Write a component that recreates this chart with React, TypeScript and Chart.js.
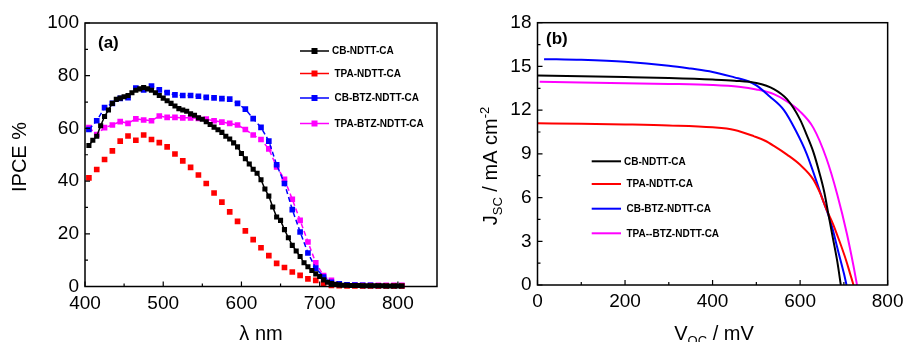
import React, { useEffect, useRef } from "react";
import { Chart, registerables } from "chart.js";

Chart.register(...registerables);

const FONT = '"Liberation Sans", Arial, Helvetica, sans-serif';

// ---------- Panel (a): IPCE spectra ----------
const seriesNames = ["CB-NDTT-CA", "TPA-NDTT-CA", "CB-BTZ-NDTT-CA", "TPA-BTZ-NDTT-CA"];
const jvSeriesNames = ["CB-NDTT-CA", "TPA-NDTT-CA", "CB-BTZ-NDTT-CA", "TPA--BTZ-NDTT-CA"];
const seriesColors = ["#000000", "#ff0000", "#0000ff", "#ff00ff"];

// CB-NDTT-CA is sampled every 5 nm
const cbNdttWavelength = [
  405, 410, 415, 420, 425, 430, 435, 440, 445, 450, 455, 460, 465, 470, 475, 480, 485, 490, 495, 500,
  505, 510, 515, 520, 525, 530, 535, 540, 545, 550, 555, 560, 565, 570, 575, 580, 585, 590, 595, 600,
  605, 610, 615, 620, 625, 630, 635, 640, 645, 650, 655, 660, 665, 670, 675, 680, 685, 690, 695, 700,
  705, 710, 715, 720, 725, 730, 735, 740, 745, 750, 755, 760, 765, 770, 775, 780, 785, 790, 795, 800,
  805,
];
const cbNdttIpce = [
  53.5, 55.5, 57, 61, 64.5, 67, 69.5, 71, 71.5, 72, 72.5, 73.5, 74.5, 75, 75.5, 75, 74.5, 73.5, 72.5, 71.5,
  70.5, 69.5, 68.5, 67.5, 67, 66.5, 65.5, 65, 64, 63.5, 62.5, 61.5, 60.5, 59.5, 58.5, 57, 56, 54.5, 53, 50.5,
  48.5, 46.5, 44.5, 43, 40.5, 37, 34.3, 30.2, 26.4, 25.1, 21.6, 18.5, 15.6, 13.5, 11.4, 9, 7.5, 6.1, 4.8, 3.8,
  2.5, 1.6, 1.1, 0.8, 0.6, 0.5, 0.5, 0.4, 0.4, 0.4, 0.3, 0.3, 0.3, 0.3, 0.3, 0.3, 0.2, 0.2, 0.2, 0.2,
  0.2,
];

// the other three dyes are sampled every 10 nm
const ipceWavelength = [
  405, 415, 425, 435, 445, 455, 465, 475, 485, 495,
  505, 515, 525, 535, 545, 555, 565, 575, 585, 595,
  605, 615, 625, 635, 645, 655, 665, 675, 685, 695,
  705, 715, 725, 735, 745, 755, 765, 775, 785, 795,
  805,
];
const tpaNdttIpce = [
  41.2, 44.4, 48.2, 51.5, 55.2, 57.1, 55.5, 57.5, 55.8, 54.6,
  53.0, 50.3, 47.7, 45.2, 42.3, 39.1, 35.5, 32.0, 28.3, 24.7,
  21.1, 17.8, 14.7, 11.7, 8.8, 7.2, 5.5, 4.2, 2.9, 2.3,
  1.3, 0.4, 0.3, 0.2, 0.2, 0.2, 0.2, 0.2, 0.2, 0.2,
  0.2,
];
const cbBtzNdttIpce = [
  59.6, 62.9, 67.9, 69.5, 71.4, 71.7, 75.3, 74.6, 76.1, 74.6,
  73.6, 72.7, 72.5, 72.5, 72.2, 71.8, 71.6, 71.3, 71.1, 69.5,
  67.3, 63.7, 60.4, 55.2, 46.2, 39.1, 29.2, 20.7, 12.7, 7.0,
  3.6, 1.6, 1.0, 0.6, 0.5, 0.4, 0.4, 0.3, 0.3, 0.3,
  0.3,
];
const tpaBtzNdttIpce = [
  60.3, 57.7, 60.3, 61.3, 62.6, 61.9, 63.6, 63.2, 62.9, 64.7,
  64.2, 64.2, 64.0, 64.0, 63.8, 63.5, 62.9, 62.4, 61.9, 61.3,
  59.6, 57.5, 55.8, 52.2, 45.4, 40.7, 33.1, 25.1, 16.9, 9.0,
  4.1, 2.3, 1.0, 0.5, 0.5, 0.4, 0.4, 0.4, 0.4, 0.4,
  0.4,
];

const ipceXTicks = [400, 500, 600, 700, 800];
const ipceXMinor = [450, 550, 650, 750];
const ipceYTicks = [0, 20, 40, 60, 80, 100];
const ipceYMinor = [10, 30, 50, 70, 90];

// ---------- Panel (b): J-V curves ----------
const cbNdttV = [0, 100, 200, 300, 400, 450, 500, 540, 570, 600, 615, 630, 645, 655, 665, 675, 685, 693];
const cbNdttJ = [14.38, 14.33, 14.27, 14.2, 14.1, 14.02, 13.86, 13.45, 12.75, 11.35, 10.3, 9.15, 7.6, 6.4, 4.8, 3.2, 1.6, 0];

const tpaNdttV = [0, 100, 200, 300, 400, 450, 495, 520, 540, 570, 600, 630, 645, 660, 675, 690, 705, 714, 722];
const tpaNdttJ = [11.1, 11.07, 11.02, 10.95, 10.82, 10.64, 10.2, 9.9, 9.55, 8.95, 8.25, 7.25, 6.35, 5.2, 4.2, 3.0, 1.7, 0.8, 0];

const cbBtzNdttV = [15, 100, 200, 300, 350, 400, 450, 480, 500, 530, 563, 590, 615, 650, 670, 688, 700, 706];
const cbBtzNdttJ = [15.5, 15.45, 15.32, 15.05, 14.85, 14.62, 14.25, 14.0, 13.7, 12.95, 12.0, 10.6, 9.0, 6.0, 4.3, 2.2, 0.8, 0];

const tpaBtzNdttV = [5, 100, 200, 300, 400, 460, 500, 540, 570, 600, 630, 660, 685, 707, 722, 730];
const tpaBtzNdttJ = [13.95, 13.9, 13.85, 13.8, 13.72, 13.6, 13.42, 13.1, 12.6, 11.9, 10.8, 8.7, 6.2, 3.5, 1.3, 0];

const jvXTicks = [0, 200, 400, 600, 800];
const jvXMinor = [100, 300, 500, 700];
const jvYTicks = [0, 3, 6, 9, 12, 15, 18];
const jvYMinor = [1.5, 4.5, 7.5, 10.5, 13.5, 16.5];

const toPoints = (xs: number[], ys: number[]) => xs.map((x, i) => ({ x, y: ys[i] }));

type TextPart = { text: string; size: number; dy: number; bold?: boolean };

function drawParts(ctx: CanvasRenderingContext2D, parts: TextPart[], cx: number, cy: number, rotate: boolean) {
  ctx.save();
  ctx.translate(cx, cy);
  if (rotate) ctx.rotate(-Math.PI / 2);
  ctx.fillStyle = "#000";
  ctx.textBaseline = "alphabetic";
  ctx.textAlign = "left";
  let total = 0;
  const widths = parts.map((p) => {
    ctx.font = `${p.bold ? "bold " : ""}${p.size}px ${FONT}`;
    const w = ctx.measureText(p.text).width;
    total += w;
    return w;
  });
  let x = -total / 2;
  parts.forEach((p, i) => {
    ctx.font = `${p.bold ? "bold " : ""}${p.size}px ${FONT}`;
    ctx.fillText(p.text, x, p.dy);
    x += widths[i];
  });
  ctx.restore();
}

type Decor = {
  xMajor: number[];
  xMinor: number[];
  yMajor: number[];
  yMinor: number[];
  xTitle: { parts: TextPart[]; x: number; y: number };
  yTitle: { parts: TextPart[]; x: number; y: number };
  panel: { text: string; x: number; y: number };
  legend: { rows: number[]; lineX0: number; lineX1: number; textX: number[]; markers: boolean; lineWidth: number };
};

function makeDecorPlugin(decor: Decor) {
  return {
    id: "panelDecor",
    afterDraw(chart: any) {
      const ctx: CanvasRenderingContext2D = chart.ctx;
      const { left, right, top, bottom } = chart.chartArea;
      const xs = chart.scales.x;
      const ys = chart.scales.y;
      ctx.save();
      ctx.strokeStyle = "#000";
      ctx.lineWidth = 1.5;
      ctx.strokeRect(left, top, right - left, bottom - top);

      // inward ticks
      ctx.lineWidth = 1.2;
      ctx.beginPath();
      const xt = (v: number, len: number) => {
        const p = xs.getPixelForValue(v);
        ctx.moveTo(p, bottom);
        ctx.lineTo(p, bottom - len);
      };
      const yt = (v: number, len: number) => {
        const p = ys.getPixelForValue(v);
        ctx.moveTo(left, p);
        ctx.lineTo(left + len, p);
      };
      decor.xMajor.forEach((v) => xt(v, 5));
      decor.xMinor.forEach((v) => xt(v, 3));
      decor.yMajor.forEach((v) => yt(v, 5));
      decor.yMinor.forEach((v) => yt(v, 3));
      ctx.stroke();

      // axis titles
      drawParts(ctx, decor.xTitle.parts, decor.xTitle.x, decor.xTitle.y, false);
      drawParts(ctx, decor.yTitle.parts, decor.yTitle.x, decor.yTitle.y, true);

      // panel label
      ctx.fillStyle = "#000";
      ctx.font = `bold 17px ${FONT}`;
      ctx.textAlign = "left";
      ctx.textBaseline = "middle";
      ctx.fillText(decor.panel.text, decor.panel.x, decor.panel.y);

      // legend
      const lg = decor.legend;
      chart.data.datasets.forEach((ds: any, i: number) => {
        const y = lg.rows[i];
        const color = ds.borderColor;
        ctx.strokeStyle = color;
        ctx.lineWidth = lg.lineWidth;
        ctx.setLineDash([]);
        ctx.beginPath();
        ctx.moveTo(lg.lineX0, y);
        ctx.lineTo(lg.lineX1, y);
        ctx.stroke();
        if (lg.markers) {
          const mx = (lg.lineX0 + lg.lineX1) / 2;
          ctx.fillStyle = color;
          ctx.fillRect(mx - 3, y - 3, 6, 6);
        }
        ctx.fillStyle = "#000";
        ctx.font = `bold 10px ${FONT}`;
        ctx.textAlign = "left";
        ctx.textBaseline = "middle";
        ctx.fillText(ds.label, lg.textX[i], y + 0.5);
      });
      ctx.restore();
    },
  };
}

function baseScales(
  xMin: number, xMax: number, xStep: number,
  yMin: number, yMax: number, yStep: number,
  yWidth: number, xHeight: number
) {
  const tickFont = { family: FONT, size: 19 };
  return {
    x: {
      type: "linear",
      min: xMin,
      max: xMax,
      grid: { display: false, drawTicks: false },
      border: { display: false },
      ticks: { stepSize: xStep, includeBounds: false, color: "#000", font: tickFont, padding: 5.5, maxRotation: 0 },
      afterFit: (s: any) => { s.height = xHeight; },
    },
    y: {
      type: "linear",
      min: yMin,
      max: yMax,
      grid: { display: false, drawTicks: false },
      border: { display: false },
      ticks: { stepSize: yStep, color: "#000", font: tickFont, padding: 6 },
      afterFit: (s: any) => { s.width = yWidth; },
    },
  };
}

function ipceConfig(): any {
  const mk = (label: string, color: string, xs: number[], ys: number[], line: boolean, dashed: boolean, r: number) => ({
    label,
    data: toPoints(xs, ys),
    borderColor: color,
    backgroundColor: color,
    showLine: line,
    borderWidth: 1.5,
    borderDash: dashed ? [5, 3] : [],
    pointStyle: "rect",
    pointRadius: r,
    pointBorderWidth: 0,
    pointBackgroundColor: color,
    clip: 3,
  });
  return {
    type: "scatter",
    data: {
      datasets: [
        mk(seriesNames[0], seriesColors[0], cbNdttWavelength, cbNdttIpce, true, false, 3.6),
        mk(seriesNames[1], seriesColors[1], ipceWavelength, tpaNdttIpce, false, false, 4),
        mk(seriesNames[2], seriesColors[2], ipceWavelength, cbBtzNdttIpce, true, true, 4),
        mk(seriesNames[3], seriesColors[3], ipceWavelength, tpaBtzNdttIpce, true, true, 4),
      ],
    },
    options: {
      responsive: false,
      animation: false,
      events: [],
      layout: { padding: { top: 23, right: 18, left: 0, bottom: 0 } },
      scales: baseScales(400, 850, 100, 0, 100, 20, 85, 55.5),
      plugins: { legend: { display: false }, tooltip: { enabled: false } },
    },
    plugins: [
      makeDecorPlugin({
        xMajor: ipceXTicks,
        xMinor: ipceXMinor,
        yMajor: ipceYTicks,
        yMinor: ipceYMinor,
        xTitle: { parts: [{ text: "\u03bb nm", size: 20, dy: 0 }], x: 261, y: 340 },
        yTitle: { parts: [{ text: "IPCE %", size: 20, dy: 0 }], x: 26, y: 157 },
        panel: { text: "(a)", x: 98, y: 43.5 },
        legend: { rows: [51, 73.5, 98, 123.5], lineX0: 300, lineX1: 329, textX: [332, 334.5, 334.5, 334.5], markers: true, lineWidth: 1.5 },
      }),
    ],
  };
}

function jvConfig(): any {
  const mk = (label: string, color: string, xs: number[], ys: number[]) => ({
    label,
    data: toPoints(xs, ys),
    borderColor: color,
    backgroundColor: color,
    showLine: true,
    borderWidth: 2,
    pointRadius: 0,
    cubicInterpolationMode: "monotone",
  });
  return {
    type: "scatter",
    data: {
      datasets: [
        mk(jvSeriesNames[0], seriesColors[0], cbNdttV, cbNdttJ),
        mk(jvSeriesNames[1], seriesColors[1], tpaNdttV, tpaNdttJ),
        mk(jvSeriesNames[2], seriesColors[2], cbBtzNdttV, cbBtzNdttJ),
        mk(jvSeriesNames[3], seriesColors[3], tpaBtzNdttV, tpaBtzNdttJ),
      ],
    },
    options: {
      responsive: false,
      animation: false,
      events: [],
      layout: { padding: { top: 22.7, right: 18, left: 0, bottom: 0 } },
      scales: baseScales(0, 800, 200, 0, 18, 3, 82.5, 57),
      plugins: { legend: { display: false }, tooltip: { enabled: false } },
    },
    plugins: [
      makeDecorPlugin({
        xMajor: jvXTicks,
        xMinor: jvXMinor,
        yMajor: jvYTicks,
        yMinor: jvYMinor,
        xTitle: {
          parts: [
            { text: "V", size: 20, dy: 0 },
            { text: "OC", size: 13, dy: 5 },
            { text: " / mV", size: 20, dy: 0 },
          ],
          x: 259,
          y: 340,
        },
        yTitle: {
          parts: [
            { text: "J", size: 20, dy: 0 },
            { text: "SC", size: 13, dy: 5 },
            { text: " / mA cm", size: 20, dy: 0 },
            { text: "-2", size: 13, dy: -8 },
          ],
          x: 42,
          y: 166,
        },
        panel: { text: "(b)", x: 91, y: 39.4 },
        legend: { rows: [161.3, 184, 208.7, 233.3], lineX0: 136.7, lineX1: 166, textX: [169, 171.5, 171.5, 171.5], markers: false, lineWidth: 2 },
      }),
    ],
  };
}

function Panel({ build, left, width }: { build: () => any; left: number; width: number }) {
  const ref = useRef<HTMLCanvasElement>(null);
  useEffect(() => {
    if (!ref.current) return;
    const chart = new Chart(ref.current, build());
    return () => chart.destroy();
  }, [build]);
  return (
    <canvas
      ref={ref}
      width={width}
      height={342}
      style={{ position: "absolute", left, top: 0, width, height: 342, display: "block" }}
    />
  );
}

export default function App() {
  return (
    <div style={{ position: "absolute", left: 0, top: 0, width: 909, height: 342, background: "#fff", overflow: "hidden" }}>
      <Panel build={ipceConfig} left={0} width={455} />
      <Panel build={jvConfig} left={455} width={454} />
    </div>
  );
}
